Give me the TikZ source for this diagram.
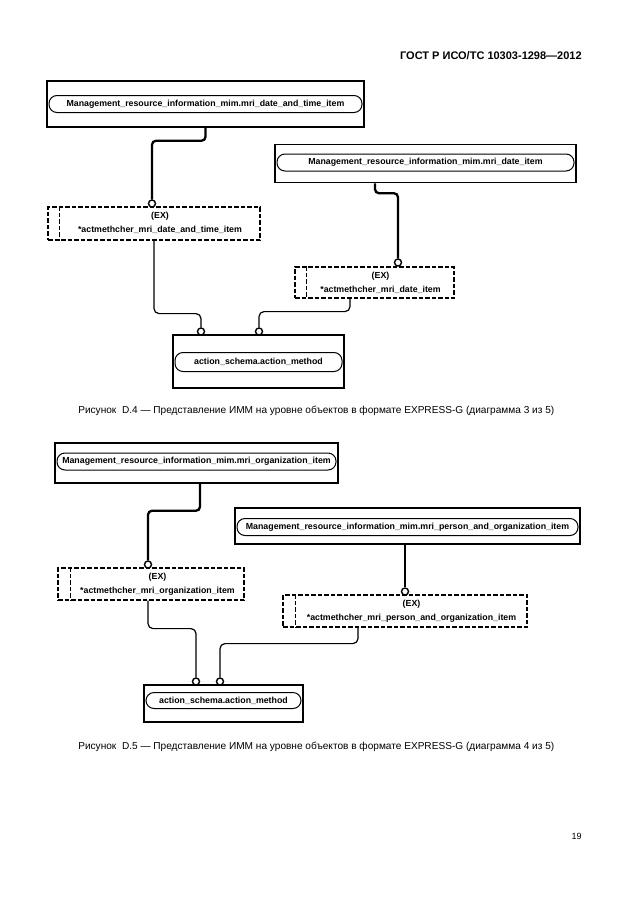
\documentclass[tikz,border=0pt]{standalone}
\usepackage{fontspec}
\setmainfont{Liberation Sans}
\usetikzlibrary{positioning,calc}

\begin{document}
\begin{tikzpicture}[x=1pt, y=-1pt, semithick,
    entbox/.style={draw, line width=1.5pt, inner sep=0pt},
    entname/.style={draw, line width=1pt, rounded corners=8pt, inner sep=0pt, minimum height=17pt,
                    font=\bfseries\fontsize{8.8}{10}\selectfont},
    exbox/.style={draw, line width=1.2pt, dash pattern=on 4.5pt off 2pt, inner sep=0pt},
    extext/.style={align=center, inner sep=0pt, font=\bfseries\fontsize{8.8}{14}\selectfont},
    ring/.style={circle, draw, line width=1.4pt, fill=white, minimum size=7pt, inner sep=0pt},
    thickrel/.style={line width=2.3pt, rounded corners=4pt},
    thinrel/.style={line width=1.2pt, rounded corners=5pt},
    caption/.style={anchor=west, inner sep=0pt, font=\fontsize{10.1}{12}\selectfont}]
    \useasboundingbox (0,0) rectangle (630,913);

    \node[anchor=east, inner sep=0pt, font=\bfseries\fontsize{11}{13}\selectfont] (gost) at (582,56) {ГОСТ Р ИСО/ТС 10303-1298—2012};

    % diagram 3 of 5
    \node[entbox, minimum width=317pt, minimum height=46pt] (dtbox) at (205.5,104) {};
    \node[entname, minimum width=313pt] (dtname) at (205.5,104) {Management\_resource\_information\_mim.mri\_date\_and\_time\_item};
    \node[entbox, minimum width=301pt, minimum height=38pt] (dbox) at (425.5,163.5) {};
    \node[entname, minimum width=297pt] (dname) at (425.5,162.5) {Management\_resource\_information\_mim.mri\_date\_item};

    \node[exbox, minimum width=212pt, minimum height=33pt] (dtsel) at (154,223.5) {};
    \draw[exbox] ([xshift=12pt]dtsel.north west) -- ([xshift=12pt]dtsel.south west);
    \node[extext] (dttext) at (160,223) {(EX)\\*actmethcher\_mri\_date\_and\_time\_item};
    \node[exbox, minimum width=159pt, minimum height=31pt] (dsel) at (374.5,282.5) {};
    \draw[exbox] ([xshift=12pt]dsel.north west) -- ([xshift=12pt]dsel.south west);
    \node[extext] (dtext) at (380.5,283) {(EX)\\*actmethcher\_mri\_date\_item};

    \node[entbox, minimum width=171pt, minimum height=53pt] (am1box) at (258.5,361.5) {};
    \node[entname, minimum width=167pt, minimum height=19pt] (am1name) at (258.5,362) {action\_schema.action\_method};

    \node[ring] (dtring) at (152,203.5) {};
    \node[ring] (dring) at (398,262.5) {};
    \node[ring] (am1ringa) at (201,331.5) {};
    \node[ring] (am1ringb) at (259,331.5) {};

    \draw[thickrel] (dtbox.south) -- ++(0,13) -| (dtring.north);
    \draw[thickrel] ([xshift=-50.5pt]dbox.south) -- ++(0,10) -| (dring.north);
    \draw[thinrel] (dtsel.south) -- ++(0,73) -| (am1ringa.north);
    \draw[thinrel] ([xshift=-24.5pt]dsel.south) -- ++(0,13) -| (am1ringb.north);

    \node[caption] (cap1) at (78,411) {Рисунок~~D.4 — Представление ИММ на уровне объектов в формате EXPRESS-G (диаграмма 3 из 5)};

    % diagram 4 of 5
    \node[entbox, minimum width=283pt, minimum height=40pt] (orgbox) at (196.5,463) {};
    \node[entname, minimum width=279pt] (orgname) at (196.5,461.5) {Management\_resource\_information\_mim.mri\_organization\_item};
    \node[entbox, minimum width=345pt, minimum height=36pt] (pobox) at (407.5,526) {};
    \node[entname, minimum width=341pt] (poname) at (407.5,527) {Management\_resource\_information\_mim.mri\_person\_and\_organization\_item};

    \node[exbox, minimum width=186pt, minimum height=32pt] (orgsel) at (151,584) {};
    \draw[exbox] ([xshift=13pt]orgsel.north west) -- ([xshift=13pt]orgsel.south west);
    \node[extext] (orgtext) at (157.5,584) {(EX)\\*actmethcher\_mri\_organization\_item};
    \node[exbox, minimum width=244pt, minimum height=32pt] (posel) at (405,611) {};
    \draw[exbox] ([xshift=13pt]posel.north west) -- ([xshift=13pt]posel.south west);
    \node[extext] (potext) at (411.5,611) {(EX)\\*actmethcher\_mri\_person\_and\_organization\_item};

    \node[entbox, minimum width=159pt, minimum height=37pt] (am2box) at (223.5,703.5) {};
    \node[entname, minimum width=155pt, minimum height=16pt] (am2name) at (223.5,700.5) {action\_schema.action\_method};

    \node[ring] (orgring) at (148,564.5) {};
    \node[ring] (poring) at (405,591.5) {};
    \node[ring] (am2ringa) at (196,681.5) {};
    \node[ring] (am2ringb) at (220,681.5) {};

    \draw[thickrel] ([xshift=3.5pt]orgbox.south) -- ++(0,27) -| (orgring.north);
    \draw[thickrel] (poring.north |- pobox.south) -- (poring.north);
    \draw[thinrel] ([xshift=-3pt]orgsel.south) -- ++(0,28) -| (am2ringa.north);
    \draw[thinrel] ([xshift=-47pt]posel.south) -- ++(0,16) -| (am2ringb.north);

    \node[caption] (cap2) at (78,747) {Рисунок~~D.5 — Представление ИММ на уровне объектов в формате EXPRESS-G (диаграмма 4 из 5)};

    \node[anchor=east, inner sep=0pt, font=\fontsize{9}{11}\selectfont] (pageno) at (582,836) {19};
\end{tikzpicture}
\end{document}
